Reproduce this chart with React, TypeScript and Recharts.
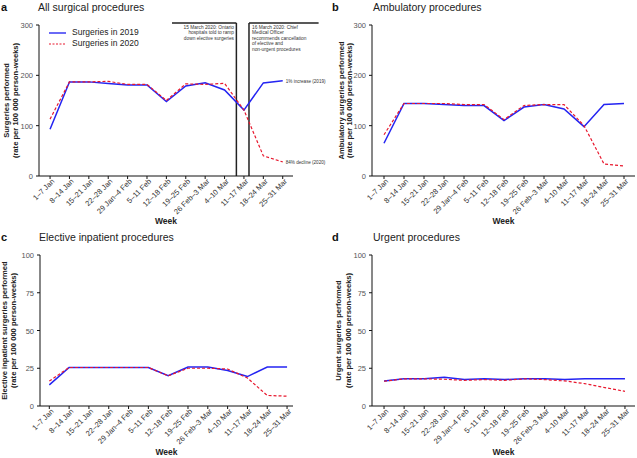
import React from 'react'
import { LineChart, Line, XAxis, YAxis, ReferenceLine, Legend } from 'recharts'

const weeks = ['1–7 Jan', '8–14 Jan', '15–21 Jan', '22–28 Jan', '29 Jan–4 Feb', '5–11 Feb', '12–18 Feb', '19–25 Feb', '26 Feb–3 Mar', '4–10 Mar', '11–17 Mar', '18–24 Mar', '25–31 Mar']

const all2019 = [93, 187, 187, 184, 181, 181, 148, 179, 185, 171, 131, 185, 189]
const all2020 = [113, 187, 187, 188, 182, 182, 150, 183, 182, 184, 131, 40, 28]
const amb2019 = [65, 144, 144, 142, 140, 140, 110, 137, 142, 133, 98, 142, 144]
const amb2020 = [82, 144, 144, 144, 142, 142, 112, 140, 142, 142, 100, 24, 20]
const elective2019 = [14, 25.5, 25.5, 25.5, 25.5, 25.5, 20, 25.8, 25.8, 23.5, 19.5, 25.8, 25.8]
const elective2020 = [16.5, 25.5, 25.5, 25.5, 25.5, 25.5, 20, 25, 25, 24.5, 18.5, 7, 6.5]
const urgent2019 = [16.6, 18, 18, 19, 17.5, 18, 17.5, 18, 18, 17.5, 18, 18, 18]
const urgent2020 = [16.4, 18, 18, 17.7, 17, 17.5, 17, 18, 17.5, 16.6, 14.8, 12.2, 9.7]

const bigTicks = [0, 100, 200, 300]
const smallTicks = [0, 25, 50, 75, 100]

const FONT = '"Liberation Sans", Arial, sans-serif'
const BLUE = '#2424f2'
const RED = '#e8182e'

const toRows = (a: number[], b: number[]) => weeks.map((w, i) => ({ idx: i, week: w, y2019: a[i], y2020: b[i] }))

const XTick = (props: any) => {
  const { x, y, payload } = props
  return (
    <g transform={`translate(${x + 2},${y - 2})`}>
      <text x={0} y={0} dy={4} textAnchor="end" transform="rotate(-45)" fontSize={7.5} fill="#333" fontFamily={FONT}>
        {weeks[payload.value]}
      </text>
    </g>
  )
}

const YTick = (props: any) => {
  const { x, y, payload } = props
  return (
    <text x={x} y={y} dy={3} textAnchor="end" fontSize={7.5} fill="#555" fontFamily={FONT}>
      {payload.value}
    </text>
  )
}

const LegendBox = () => (
  <div style={{ fontFamily: FONT, fontSize: 8.5, color: '#222', lineHeight: '11px' }}>
    <div style={{ display: 'flex', alignItems: 'center' }}>
      <svg width={24} height={8}><line x1={1} y1={4} x2={18} y2={4} stroke="#6a6af6" strokeWidth={2} /></svg>
      <span>Surgeries in 2019</span>
    </div>
    <div style={{ display: 'flex', alignItems: 'center' }}>
      <svg width={24} height={8}><line x1={1} y1={4} x2={18} y2={4} stroke={RED} strokeWidth={1} strokeDasharray="2 1.5" /></svg>
      <span>Surgeries in 2020</span>
    </div>
  </div>
)

type PanelProps = {
  left: number
  top: number
  width: number
  height: number
  margin: { top: number; right: number; bottom: number; left: number }
  xAxisHeight: number
  xDomain: [number, number]
  yDomain: [number, number]
  yTicks: number[]
  yTitle: string[]
  yTitleX: number[]
  data: { idx: number; y2019: number; y2020: number }[]
  weekOffset: number
  endLabels?: boolean
  legend?: boolean
  children?: React.ReactNode
}

const endLabel = (text: string) => (props: any) => {
  if (props.index !== weeks.length - 1) return null
  return (
    <text x={props.x + 3} y={props.y + 2} fontSize={4.6} fill="#333" fontFamily={FONT}>{text}</text>
  )
}

const Panel = (p: PanelProps) => {
  const plotTop = p.margin.top
  const plotBottom = p.height - p.margin.bottom - p.xAxisHeight
  const midY = (plotTop + plotBottom) / 2
  return (
    <div style={{ position: 'absolute', left: p.left, top: p.top }}>
      <LineChart width={p.width} height={p.height} data={p.data} margin={p.margin}>
        <XAxis
          dataKey="idx"
          type="number"
          domain={p.xDomain}
          ticks={weeks.map((_, i) => i)}
          interval={0}
          height={p.xAxisHeight}
          tick={<XTick />}
          tickSize={3}
          tickMargin={2}
          stroke="#111"
          label={{ value: 'Week', position: 'insideBottom', offset: p.weekOffset, fontSize: 8.5, fontWeight: 'bold', fill: '#222', fontFamily: FONT }}
        />
        <YAxis
          domain={p.yDomain}
          ticks={p.yTicks}
          width={25}
          tick={<YTick />}
          tickSize={3}
          tickMargin={3}
          stroke="#111"
          label={{
            content: () => (
              <g>
                {p.yTitle.map((t, i) => (
                  <text
                    key={i}
                    x={p.yTitleX[i]}
                    y={midY}
                    transform={`rotate(-90 ${p.yTitleX[i]} ${midY})`}
                    textAnchor="middle"
                    dominantBaseline="central"
                    fontSize={7.6}
                    fontWeight="bold"
                    fill="#222"
                    fontFamily={FONT}
                  >
                    {t}
                  </text>
                ))}
              </g>
            ),
          }}
        />
        {p.children}
        <Line
          dataKey="y2019"
          stroke={BLUE}
          strokeWidth={1.5}
          dot={false}
          activeDot={false}
          isAnimationActive={false}
          label={p.endLabels ? endLabel('1% increase (2019)') : false}
        />
        <Line
          dataKey="y2020"
          stroke={RED}
          strokeWidth={1.2}
          strokeDasharray="3 2"
          dot={false}
          activeDot={false}
          isAnimationActive={false}
          label={p.endLabels ? endLabel('84% decline (2020)') : false}
        />
        {p.legend && (
          <Legend
            verticalAlign="middle"
            align="center"
            layout="vertical"
            wrapperStyle={{ left: 48, top: 27, width: 130, bottom: 'auto', right: 'auto' }}
            content={() => <LegendBox />}
          />
        )}
      </LineChart>
    </div>
  )
}

const lineStyle = { stroke: '#222', strokeWidth: 1.5 }

const boxTop = 304
const event1 = 9.61
const event2 = 10.26

const box1Text = ['15 March 2020: Ontario', 'hospitals told to ramp', 'down elective surgeries']
const box2Text = ['16 March 2020: Chief', 'Medical Officer', 'recommends cancellation', 'of elective and', 'non-urgent procedures']

export default function App() {
  return (
    <div style={{ position: 'absolute', left: 0, top: 0, width: 637, height: 458, background: '#fff', overflow: 'hidden' }}>
      <Panel
        left={0}
        top={0}
        width={332}
        height={230}
        margin={{ top: 25, right: 39, bottom: 0, left: 14 }}
        xAxisHeight={54}
        xDomain={[-0.57, 12.53]}
        yDomain={[0, 300]}
        yTicks={bigTicks}
        yTitle={['Surgeries performed', '(rate per 100 000 person-weeks)']}
        yTitleX={[6, 15]}
        data={toRows(all2019, all2020)}
        weekOffset={6}
        endLabels
        legend
      >
        <ReferenceLine segment={[{ x: event1, y: 0 }, { x: event1, y: boxTop }]} ifOverflow="visible" {...lineStyle} />
        <ReferenceLine segment={[{ x: 6.29, y: boxTop }, { x: event1, y: boxTop }]} ifOverflow="visible" {...lineStyle} />
        <ReferenceLine segment={[{ x: event2, y: 0 }, { x: event2, y: boxTop }]} ifOverflow="visible" {...lineStyle} />
        <ReferenceLine segment={[{ x: event2, y: boxTop }, { x: 13.85, y: boxTop }]} ifOverflow="visible" {...lineStyle} />
      </Panel>
      <Panel
        left={320}
        top={0}
        width={317}
        height={230}
        margin={{ top: 25, right: 2, bottom: 0, left: 27 }}
        xAxisHeight={54}
        xDomain={[-0.6, 12.55]}
        yDomain={[0, 300]}
        yTicks={bigTicks}
        yTitle={['Ambulatory surgeries performed', '(rate per 100 000 person-weeks)']}
        yTitleX={[21, 29]}
        data={toRows(amb2019, amb2020)}
        weekOffset={6}
      />
      <Panel
        left={0}
        top={230}
        width={318}
        height={228}
        margin={{ top: 25, right: 25, bottom: 0, left: 15 }}
        xAxisHeight={52}
        xDomain={[-0.47, 12.3]}
        yDomain={[0, 100]}
        yTicks={smallTicks}
        yTitle={['Elective inpatient surgeries performed', '(rate per 100 000 person-weeks)']}
        yTitleX={[4, 13]}
        data={toRows(elective2019, elective2020)}
        weekOffset={3}
      />
      <Panel
        left={320}
        top={230}
        width={317}
        height={228}
        margin={{ top: 25, right: 2, bottom: 0, left: 27 }}
        xAxisHeight={52}
        xDomain={[-0.6, 12.5]}
        yDomain={[0, 100]}
        yTicks={smallTicks}
        yTitle={['Urgent surgeries performed', '(rate per 100 000 person-weeks)']}
        yTitleX={[18, 28]}
        data={toRows(urgent2019, urgent2020)}
        weekOffset={3}
      />
      <svg width={637} height={458} style={{ position: 'absolute', left: 0, top: 0, pointerEvents: 'none' }} fontFamily={FONT}>
        <text x={1} y={11} fontSize={11} fontWeight="bold" fill="#111">a</text>
        <text x={38} y={11} fontSize={10.5} fill="#222">All surgical procedures</text>
        <text x={332} y={11} fontSize={11} fontWeight="bold" fill="#111">b</text>
        <text x={373} y={11} fontSize={10.5} fill="#222">Ambulatory procedures</text>
        <text x={1} y={241} fontSize={11} fontWeight="bold" fill="#111">c</text>
        <text x={39} y={241} fontSize={10.5} fill="#222">Elective inpatient procedures</text>
        <text x={332} y={241} fontSize={11} fontWeight="bold" fill="#111">d</text>
        <text x={373} y={241} fontSize={10.5} fill="#222">Urgent procedures</text>
        {box1Text.map((t, i) => (
          <text key={'b1' + i} x={234} y={29 + i * 5.4} fontSize={4.8} textAnchor="end" fill="#333">{t}</text>
        ))}
        {box2Text.map((t, i) => (
          <text key={'b2' + i} x={252} y={29 + i * 5.4} fontSize={4.8} fill="#333">{t}</text>
        ))}
      </svg>
    </div>
  )
}
